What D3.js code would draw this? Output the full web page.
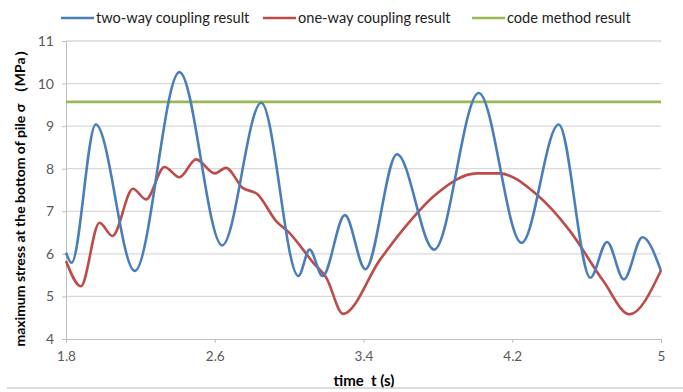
<!DOCTYPE html>
<html>
<head>
<meta charset="utf-8">
<script src="https://cdn.jsdelivr.net/npm/d3@7"></script>
<style>
  body { margin: 0; background: #fff; }
  svg { display: block; font-family: Lato, "Open Sans", sans-serif; }
</style>
</head>
<body>
<svg width="683" height="392"></svg>
<script>
// two-way coupling result
const twoWayT = [1.8, 1.83, 1.96, 2.17, 2.41, 2.64, 2.85, 3.05, 3.11, 3.18, 3.30, 3.41, 3.58, 3.78, 4.02, 4.25, 4.45, 4.62, 4.71, 4.80, 4.90, 5.0];
const twoWayV = [6.03, 5.79, 9.04, 5.6, 10.27, 6.2, 9.55, 5.48, 6.1, 5.48, 6.91, 5.64, 8.34, 6.1, 9.78, 6.26, 9.04, 5.44, 6.28, 5.40, 6.39, 5.6];

// one-way coupling result
const oneWayT = [1.8, 1.88, 1.98, 2.05, 2.16, 2.23, 2.33, 2.41, 2.50, 2.60, 2.66, 2.75, 2.83, 2.93, 3.00, 3.13, 3.20, 3.29, 3.49, 3.62, 3.79, 4.01, 4.13, 4.33, 4.51, 4.69, 4.83, 5.0];
const oneWayV = [5.83, 5.24, 6.73, 6.42, 7.53, 7.28, 8.04, 7.80, 8.22, 7.89, 8.02, 7.55, 7.40, 6.77, 6.50, 5.79, 5.44, 4.59, 5.87, 6.61, 7.40, 7.89, 7.89, 7.40, 6.54, 5.36, 4.58, 5.61];

// code method result
const codeT = [1.8, 5];
const codeV = [9.57, 9.57];

const xTicks = [1.8, 2.6, 3.4, 4.2, 5];
const yTicks = [4, 5, 6, 7, 8, 9, 10, 11];

const seriesNames = ["two-way coupling result", "one-way coupling result", "code method result"];
const colors = ["#4a7ebb", "#be4b48", "#98b954"];

const svg = d3.select("svg");

const x = d3.scaleLinear().domain([1.8, 5]).range([66, 661]);
const y = d3.scaleLinear().domain([4, 11]).range([339, 41]);

// gridlines
svg.append("g")
  .selectAll("line")
  .data(yTicks.slice(1))
  .enter()
  .append("line")
  .attr("x1", x(1.8))
  .attr("x2", x(5))
  .attr("y1", d => y(d))
  .attr("y2", d => y(d))
  .attr("stroke", "#d9d9d9")
  .attr("stroke-width", 1.3);

// y axis
const yAxis = svg.append("g")
  .attr("transform", `translate(${x(1.8)},0)`)
  .call(d3.axisLeft(y).tickValues(yTicks).tickSize(4).tickFormat(d3.format("d")));
yAxis.select(".domain").attr("stroke", "#bfbfbf");
yAxis.selectAll(".tick line").attr("stroke", "#bfbfbf");
yAxis.selectAll("text")
  .attr("x", -12)
  .attr("fill", "#595959")
  .style("font-size", "14px")
  .style("font-family", "Lato, sans-serif");

// x axis
const xAxis = svg.append("g")
  .attr("transform", `translate(0,${y(4)})`)
  .call(d3.axisBottom(x).tickValues(xTicks).tickSize(4).tickSizeOuter(0).tickFormat(d => d));
xAxis.select(".domain").attr("stroke", "#bfbfbf");
xAxis.selectAll(".tick line").attr("stroke", "#bfbfbf");
xAxis.selectAll("text")
  .attr("y", 12)
  .attr("fill", "#595959")
  .style("font-size", "13.5px")
  .style("font-family", "Lato, sans-serif");

// lines
const line = d3.line()
  .x(d => x(d[0]))
  .y(d => y(d[1]))
  .curve(d3.curveMonotoneX);

const series = [
  d3.zip(twoWayT, twoWayV),
  d3.zip(oneWayT, oneWayV),
  d3.zip(codeT, codeV)
];

// green under, blue on top
[2, 1, 0].forEach(i => {
  svg.append("path")
    .datum(series[i])
    .attr("d", line)
    .attr("fill", "none")
    .attr("stroke", colors[i])
    .attr("stroke-width", 2.6)
    .attr("stroke-linejoin", "round");
});

// legend
const legendX = [61, 263, 472];
const leg = svg.append("g");
seriesNames.forEach((name, i) => {
  leg.append("line")
    .attr("x1", legendX[i])
    .attr("x2", legendX[i] + 33)
    .attr("y1", 18)
    .attr("y2", 18)
    .attr("stroke", colors[i])
    .attr("stroke-width", 2.6);
  leg.append("text")
    .attr("x", legendX[i] + 35)
    .attr("y", 18)
    .attr("dy", "0.35em")
    .attr("fill", "#222")
    .style("font-size", "14.6px")
    .text(name);
});

// axis titles
svg.append("text")
  .attr("transform", "translate(20,195) rotate(-90)")
  .attr("text-anchor", "middle")
  .attr("dy", "0.35em")
  .style("font-size", "14px")
  .style("font-weight", "bold")
  .style("white-space", "pre")
  .text("maximum stress at the bottom of pile σ （MPa）");

svg.append("text")
  .attr("x", 364)
  .attr("y", 381)
  .attr("text-anchor", "middle")
  .attr("dy", "0.35em")
  .style("font-size", "15px")
  .style("font-weight", "bold")
  .style("white-space", "pre")
  .text("time  t (s)");

// bottom frame line
svg.append("line")
  .attr("x1", 7)
  .attr("x2", 683)
  .attr("y1", 388)
  .attr("y2", 388)
  .attr("stroke", "#d0d0d0")
  .attr("stroke-width", 1.5);
</script>
</body>
</html>
